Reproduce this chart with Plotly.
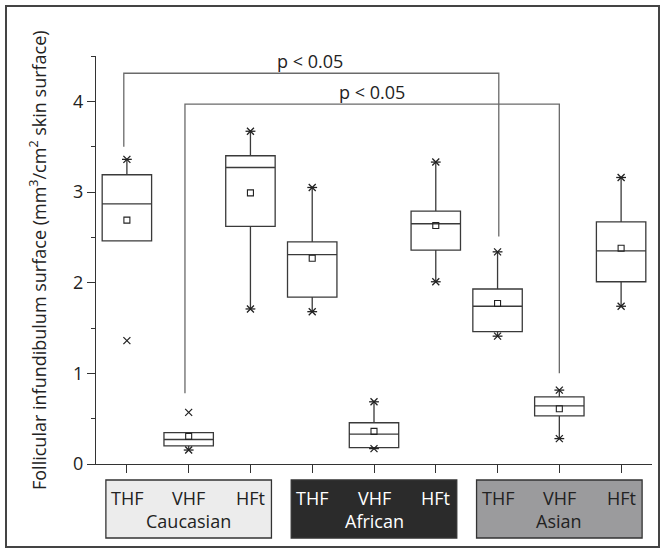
import plotly.graph_objects as go

# ---------------- data ----------------
groups = ["Caucasian", "African", "Asian"]
measures = ["THF", "VHF", "HFt"]
positions = [1, 2, 3, 4, 5, 6, 7, 8, 9]

q1 = [2.46, 0.20, 2.62, 1.84, 0.18, 2.36, 1.46, 0.53, 2.01]
median = [2.87, 0.27, 3.27, 2.31, 0.33, 2.65, 1.74, 0.64, 2.35]
q3 = [3.19, 0.345, 3.40, 2.45, 0.455, 2.79, 1.93, 0.74, 2.67]
mean = [2.69, 0.305, 2.99, 2.27, 0.36, 2.63, 1.77, 0.61, 2.38]
whisker_low = [2.46, 0.154, 1.71, 1.68, 0.17, 2.01, 1.41, 0.28, 1.74]
whisker_high = [3.36, 0.345, 3.67, 3.05, 0.686, 3.33, 2.34, 0.815, 3.16]

# asterisk marks at whisker ends
star_x = [1, 2, 3, 3, 4, 4, 5, 5, 6, 6, 7, 7, 8, 8, 9, 9]
star_y = [3.36, 0.154, 3.67, 1.71, 3.05, 1.68, 0.686, 0.17, 3.33, 2.01, 2.34, 1.41, 0.815, 0.28, 3.16, 1.74]
# cross marks (outliers)
cross_x = [1, 2]
cross_y = [1.36, 0.57]

# significance brackets
bracket_x_left = [0.95, 1.94]
bracket_x_right = [7.02, 8.0]
bracket_top = [4.31, 3.97]
bracket_left_end = [3.50, 0.78]
bracket_right_end = [2.51, 1.00]
bracket_label = ["p < 0.05", "p < 0.05"]
bracket_label_x = [3.97, 4.96]
bracket_label_y = [4.44, 4.10]

y_ticks = [0, 1, 2, 3, 4]
y_title = "Follicular infundibulum surface (mm<sup>3</sup>/cm<sup>2</sup> skin surface)"

# ---------------- layout constants ----------------
W, H = 665, 553
ML, MR, MT, MB = 96, 13, 56, 89
XR = (0.5, 9.5)
FONT = "Open Sans"

PW = W - ML - MR
PH = H - MT - MB


def xpaper_from_data(x):
    return (x - XR[0]) / (XR[1] - XR[0])


def xpaper_from_px(px):
    return (px - ML) / PW


def ypaper_from_px(py):
    return (H - MB - py) / PH


fig = go.Figure()

fig.add_trace(go.Box(
    x=positions, q1=q1, median=median, q3=q3,
    lowerfence=whisker_low, upperfence=whisker_high,
    width=0.8, whiskerwidth=0, boxpoints=False,
    fillcolor="white", line=dict(color="#3a3a3a", width=1.3),
    showlegend=False, hoverinfo="skip",
))

fig.add_trace(go.Scatter(
    x=positions, y=mean, mode="markers",
    marker=dict(symbol="square-open", size=6, color="#222", line=dict(width=1.1, color="#222")),
    showlegend=False, hoverinfo="skip",
))

fig.add_trace(go.Scatter(
    x=star_x, y=star_y, mode="markers",
    marker=dict(symbol="x-thin-open", size=7, color="#222", line=dict(width=1.3, color="#222")),
    showlegend=False, hoverinfo="skip",
))
fig.add_trace(go.Scatter(
    x=star_x, y=star_y, mode="markers",
    marker=dict(symbol="line-ew-open", size=7, color="#222", line=dict(width=1.3, color="#222")),
    showlegend=False, hoverinfo="skip",
))
fig.add_trace(go.Scatter(
    x=cross_x, y=cross_y, mode="markers",
    marker=dict(symbol="x-thin-open", size=7, color="#222", line=dict(width=1.2, color="#222")),
    showlegend=False, hoverinfo="skip",
))

for i in range(len(bracket_top)):
    fig.add_trace(go.Scatter(
        x=[bracket_x_left[i], bracket_x_left[i], bracket_x_right[i], bracket_x_right[i]],
        y=[bracket_left_end[i], bracket_top[i], bracket_top[i], bracket_right_end[i]],
        mode="lines", line=dict(color="#6a6a6a", width=1.3),
        showlegend=False, hoverinfo="skip",
    ))
    fig.add_annotation(
        x=bracket_label_x[i], y=bracket_label_y[i], xref="x", yref="y",
        xanchor="center", yanchor="middle",
        text=bracket_label[i], showarrow=False,
        font=dict(family=FONT, size=18, color="#222"),
    )

shapes = []
shapes.append(dict(
    type="rect", xref="paper", yref="paper",
    x0=xpaper_from_px(6), x1=xpaper_from_px(659),
    y0=ypaper_from_px(547), y1=ypaper_from_px(6),
    line=dict(color="#444", width=2), fillcolor="rgba(0,0,0,0)", layer="below",
))

group_fill = ["#ececec", "#2b2b2b", "#9b9b9d"]
group_text = ["#222", "#ffffff", "#222"]
box_top = ypaper_from_px(480)
box_bot = ypaper_from_px(538)
for g, name in enumerate(groups):
    centre = positions[3 * g + 1]
    shapes.append(dict(
        type="rect", xref="paper", yref="paper",
        x0=xpaper_from_data(centre - 1.34), x1=xpaper_from_data(centre + 1.34),
        y0=box_bot, y1=box_top,
        line=dict(color="#333", width=1.3), fillcolor=group_fill[g],
    ))
    for m, lab in enumerate(measures):
        fig.add_annotation(
            x=xpaper_from_data(positions[3 * g + m]), y=ypaper_from_px(498),
            xref="paper", yref="paper", xanchor="center", yanchor="middle",
            text=lab, showarrow=False,
            font=dict(family=FONT, size=18, color=group_text[g]),
        )
    fig.add_annotation(
        x=xpaper_from_data(centre), y=ypaper_from_px(521),
        xref="paper", yref="paper", xanchor="center", yanchor="middle",
        text=name, showarrow=False,
        font=dict(family=FONT, size=18, color=group_text[g]),
    )

fig.add_annotation(
    x=xpaper_from_px(38), y=0.5, xref="paper", yref="paper",
    xanchor="center", yanchor="middle",
    text=y_title, textangle=-90, showarrow=False,
    font=dict(family=FONT, size=18, color="#222"),
)

fig.update_layout(
    template="none",
    width=W, height=H,
    margin=dict(l=ML, r=MR, t=MT, b=MB, autoexpand=False),
    paper_bgcolor="white", plot_bgcolor="white",
    shapes=shapes,
    font=dict(family=FONT, color="#222"),
    xaxis=dict(
        range=list(XR), tickvals=positions, showticklabels=False,
        ticks="outside", ticklen=8, tickwidth=1, tickcolor="#333",
        showline=True, linecolor="#333", linewidth=1,
        showgrid=False, zeroline=False, automargin=False,
    ),
    yaxis=dict(
        range=[0, 4.5], tickvals=y_ticks,
        ticks="outside", ticklen=8, tickwidth=1, tickcolor="#333",
        minor=dict(dtick=0.5, ticks="outside", ticklen=4, tickcolor="#333", showgrid=False),
        showline=True, linecolor="#333", linewidth=1,
        showgrid=False, zeroline=False, automargin=False,
        tickfont=dict(family=FONT, size=18, color="#222"),
    ),
)

fig.write_html(
    "out.html",
    config={"displayModeBar": False, "staticPlot": True},
    post_script="document.body.style.margin='0';document.body.style.overflow='hidden';",
)
